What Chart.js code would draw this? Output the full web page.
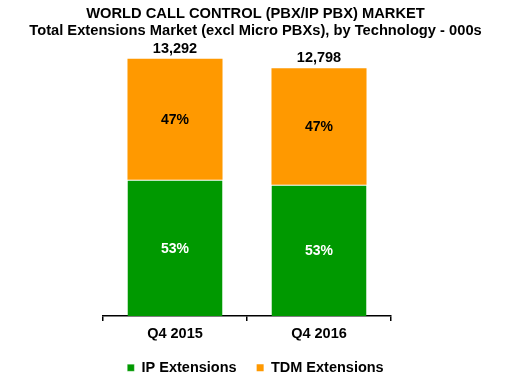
<!DOCTYPE html>
<html>
<head>
<meta charset="utf-8">
<script src="https://cdn.jsdelivr.net/npm/chart.js@4/dist/chart.umd.min.js"></script>
<style>
html,body{margin:0;padding:0;background:#fff;}
#wrap{width:511px;height:383px;position:relative;}
</style>
</head>
<body>
<div id="wrap"><canvas id="c"></canvas></div>
<script>
const categories = ['Q4 2015', 'Q4 2016'];
const ipExtensions = [7045, 6783];
const tdmExtensions = [6247, 6015];
const seriesNames = ['IP Extensions', 'TDM Extensions'];
const titleText = 'WORLD CALL CONTROL (PBX/IP PBX) MARKET';
const subtitleText = 'Total Extensions Market (excl Micro PBXs), by Technology - 000s';

const FONT = '"Liberation Sans", Arial, Helvetica, sans-serif';
const GREEN = '#009900';
const ORANGE = '#FF9900';
const LABEL_COLORS = ['#fff', '#000'];

const labelPlugin = {
  id: 'labels',
  afterDatasetsDraw(chart) {
    const ctx = chart.ctx;
    ctx.save();
    ctx.textAlign = 'center';
    const metas = [chart.getDatasetMeta(0), chart.getDatasetMeta(1)];
    categories.forEach((cat, i) => {
      const total = ipExtensions[i] + tdmExtensions[i];
      const vals = [ipExtensions[i], tdmExtensions[i]];
      metas.forEach((meta, d) => {
        const bar = meta.data[i];
        const mid = (bar.y + bar.base) / 2;
        ctx.fillStyle = LABEL_COLORS[d];
        ctx.font = 'bold 14px ' + FONT;
        ctx.textBaseline = 'middle';
        ctx.fillText(Math.round(vals[d] / total * 100) + '%', bar.x, mid + 1);
      });
      const top = metas[1].data[i];
      ctx.fillStyle = '#000';
      ctx.font = 'bold 14.5px ' + FONT;
      ctx.textBaseline = 'alphabetic';
      ctx.fillText(total.toLocaleString('en-US'), top.x, top.y - 6);
    });
    ctx.restore();
  }
};

new Chart(document.getElementById('c'), {
  type: 'bar',
  data: {
    labels: categories,
    datasets: [
      {
        label: seriesNames[0],
        data: ipExtensions,
        backgroundColor: GREEN,
        borderColor: '#fff',
        borderWidth: {top: 1, left: 0, right: 0, bottom: 0},
        borderSkipped: false,
        barPercentage: 0.66,
        categoryPercentage: 1
      },
      {
        label: seriesNames[1],
        data: tdmExtensions,
        backgroundColor: ORANGE,
        borderWidth: 0,
        barPercentage: 0.66,
        categoryPercentage: 1
      }
    ]
  },
  options: {
    responsive: true,
    maintainAspectRatio: false,
    animation: false,
    layout: {padding: {left: 0, right: 0, top: 0, bottom: -2}},
    scales: {
      x: {
        stacked: true,
        grid: {display: true, drawOnChartArea: false, drawTicks: true, tickLength: 5, color: '#000', lineWidth: 1.5, offset: true},
        border: {display: true, color: '#000', width: 1.5},
        ticks: {color: '#000', font: {family: FONT, size: 14.5, weight: 'bold'}, padding: 4},
        afterFit(s) { s.height = s.height - 6; }
      },
      y: {
        stacked: true,
        display: true,
        min: 0,
        max: 14000,
        grid: {display: false},
        border: {display: false},
        ticks: {display: false},
        afterFit(s) { s.width = 103; }
      },
      y2: {
        position: 'right',
        display: true,
        grid: {display: false},
        border: {display: false},
        ticks: {display: false},
        afterFit(s) { s.width = 120; }
      }
    },
    plugins: {
      title: {
        display: true,
        text: titleText,
        color: '#000',
        font: {family: FONT, size: 14.7, weight: 'bold', lineHeight: 1.2},
        padding: {top: 4.7, bottom: 0}
      },
      subtitle: {
        display: true,
        text: subtitleText,
        color: '#000',
        font: {family: FONT, size: 14.7, weight: 'bold', lineHeight: 1.2},
        padding: {top: 0, bottom: 5}
      },
      legend: {
        position: 'bottom',
        labels: {
          color: '#000',
          font: {family: FONT, size: 14.5, weight: 'bold'},
          boxWidth: 7,
          boxHeight: 7,
          padding: 20
        }
      },
      tooltip: {enabled: false}
    }
  },
  plugins: [labelPlugin]
});
</script>
</body>
</html>
